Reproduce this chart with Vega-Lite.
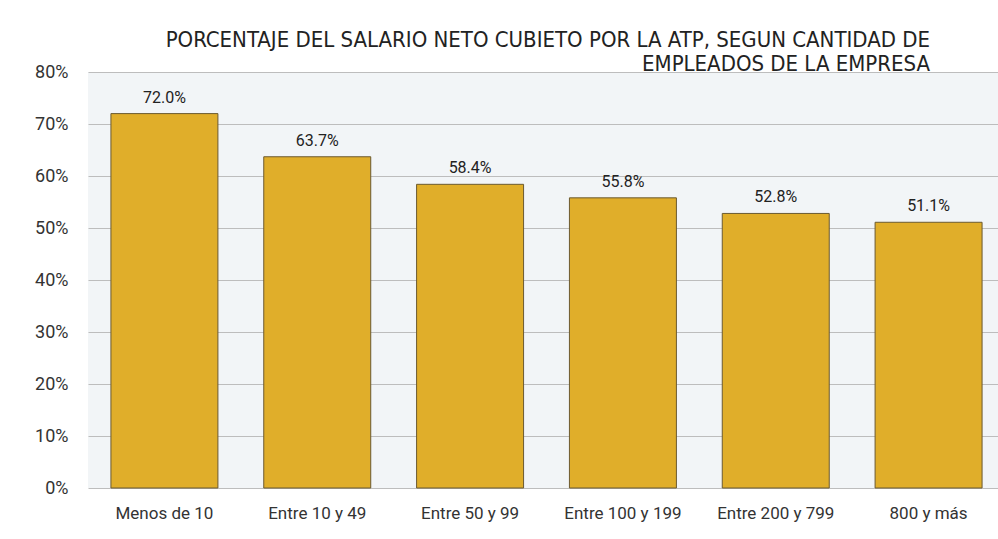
{
  "$schema": "https://vega.github.io/schema/vega-lite/v6.json",
  "width": 917,
  "height": 416,
  "autosize": {"type": "none"},
  "padding": {"left": 88, "top": 72, "right": 0, "bottom": 51},
  "background": "white",
  "title": {
    "text": ["PORCENTAJE DEL SALARIO NETO CUBIETO POR LA ATP, SEGUN CANTIDAD DE", "EMPLEADOS DE LA EMPRESA"],
    "anchor": "end",
    "frame": "group",
    "align": "right",
    "dx": -75,
    "offset": -13,
    "font": "Liberation Sans Narrow, DejaVu Sans Condensed, Roboto, sans-serif",
    "fontSize": 22,
    "fontWeight": "normal",
    "lineHeight": 24,
    "color": "#222222"
  },
  "data": {
    "values": [
      {"categoria": "Menos de 10", "porcentaje": 0.720},
      {"categoria": "Entre 10 y 49", "porcentaje": 0.637},
      {"categoria": "Entre 50 y 99", "porcentaje": 0.584},
      {"categoria": "Entre 100 y 199", "porcentaje": 0.558},
      {"categoria": "Entre 200 y 799", "porcentaje": 0.528},
      {"categoria": "800 y más", "porcentaje": 0.511}
    ]
  },
  "encoding": {
    "x": {
      "field": "categoria",
      "type": "nominal",
      "sort": null,
      "scale": {"paddingInner": 0.3, "paddingOuter": 0.15},
      "axis": {
        "title": null,
        "labelAngle": 0,
        "ticks": false,
        "domain": false,
        "grid": false,
        "labelPadding": 17,
        "labelFont": "Roboto, sans-serif",
        "labelFontSize": 17,
        "labelColor": "#333333"
      }
    },
    "y": {
      "field": "porcentaje",
      "type": "quantitative",
      "scale": {"domain": [0, 0.8], "nice": false},
      "axis": {
        "title": null,
        "format": ".0%",
        "values": [0, 0.1, 0.2, 0.3, 0.4, 0.5, 0.6, 0.7, 0.8],
        "ticks": false,
        "domain": false,
        "grid": true,
        "gridColor": "#bdbdbd",
        "gridWidth": 1,
        "labelPadding": 20,
        "labelFont": "Roboto, sans-serif",
        "labelFontSize": 18,
        "labelColor": "#333333"
      }
    }
  },
  "layer": [
    {
      "mark": {"type": "bar", "color": "#E0AE2A", "stroke": "#6b5a30", "strokeWidth": 1}
    },
    {
      "mark": {"type": "text", "baseline": "bottom", "dy": -8, "font": "Roboto, sans-serif", "fontSize": 16, "color": "#222222"},
      "encoding": {
        "text": {"field": "porcentaje", "type": "quantitative", "format": ".1%"}
      }
    }
  ],
  "config": {
    "view": {"stroke": null, "fill": "#F2F5F7"}
  }
}
